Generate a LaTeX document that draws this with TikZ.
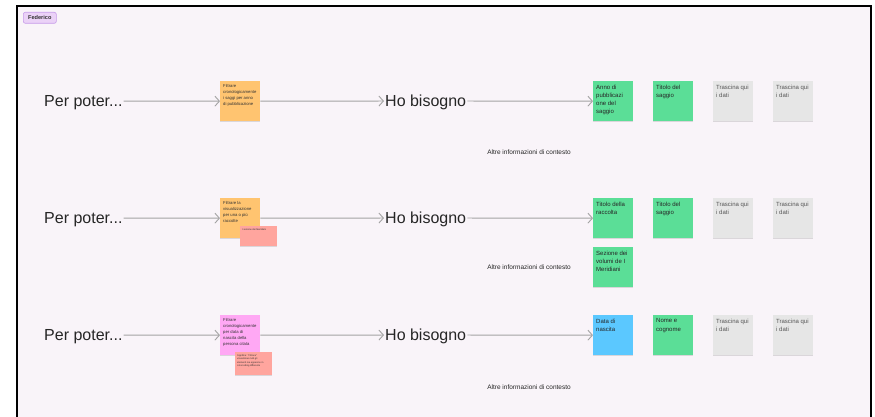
\documentclass[tikz,border=0pt]{standalone}
\usepackage{fontspec}
\setmainfont{Liberation Sans}
\usetikzlibrary{arrows.meta,shadows}
\definecolor{bg}{HTML}{F9F4F9}
\definecolor{linegray}{HTML}{A3A3A3}
\definecolor{sorange}{HTML}{FFC470}
\definecolor{sgreen}{HTML}{5BDE97}
\definecolor{sgrey}{HTML}{E6E6E6}
\definecolor{sblue}{HTML}{5BC8FF}
\definecolor{spink}{HTML}{FFA8F4}
\definecolor{ssalmon}{HTML}{FFA59E}
\definecolor{tagfill}{HTML}{EBD2F7}
\definecolor{tagdraw}{HTML}{C79BEA}
\definecolor{greytext}{HTML}{555555}
\tikzset{
  big/.style={font=\fontsize{16}{16}\selectfont, inner sep=1pt, text height=11.5pt, text depth=0pt, text=black!85},
  note/.style={minimum width=40pt, minimum height=40pt, inner sep=0pt, draw=none,
    general shadow={fill=black, opacity=0.12, shadow yshift=-0.8pt}},
  ntxt/.style={anchor=north west, inner sep=0pt, align=left, font=\fontsize{4.2}{6}\selectfont, text=black!80},
  gtxt/.style={anchor=north west, inner sep=0pt, align=left, font=\fontsize{6}{8.3}\selectfont, text=black!85},
  ytxt/.style={anchor=north west, inner sep=0pt, align=left, font=\fontsize{6}{8.3}\selectfont, text=greytext},
  stxt/.style={anchor=north west, inner sep=0pt, align=left, font=\fontsize{2.4}{3.3}\selectfont, text=black!80},
  ctx/.style={font=\fontsize{6.5}{7}\selectfont, inner sep=0pt, text=black!85},
  conn/.style={draw=linegray, line width=0.9pt, -{Straight Barb[length=4.5pt,width=10pt]}},
}
\newcommand\stk[6]{%
  \node[note, fill=#4, anchor=north west] (#1) at (#2,#3) {};
  \node[#5] (#1t) at ([shift={(3,3.5)}]#1.north west) {#6};}
\begin{document}
\begin{tikzpicture}[x=1pt,y=-1pt]
\useasboundingbox (0,0) rectangle (875,417);
\fill[white] (0,0) rectangle (875,417);
\fill[bg] (17,6) rectangle (871,420);
\draw[black, line width=1.6pt] (17,420) -- (17,6) -- (871,6) -- (871,420);
% tag
\node[fill=tagfill, draw=tagdraw, line width=0.6pt, rounded corners=2pt, inner sep=0pt,
  minimum width=33pt, minimum height=11pt,
  font=\bfseries\fontsize{5.6}{6}\selectfont, text=black!80, anchor=north west] (tag) at (23,12) {Federico};

% ---------- row 1 ----------
\node[big, anchor=west] (p1) at (43,101) {Per poter...};
\stk{o1}{220}{81}{sorange}{ntxt}{Filtrare\\cronologicamente\\i saggi per anno\\di pubblicazione}
\node[big, anchor=west] (h1) at (384,101) {Ho bisogno};
\stk{a1}{593}{81}{sgreen}{gtxt}{Anno di\\pubblicazi\\one del\\saggio}
\stk{b1}{653}{81}{sgreen}{gtxt}{Titolo del\\saggio}
\stk{c1}{713}{81}{sgrey}{ytxt}{Trascina qui\\i dati}
\stk{d1}{773}{81}{sgrey}{ytxt}{Trascina qui\\i dati}
\node[ctx] (x1) at (529,152) {Altre informazioni di contesto};
\draw[conn] (p1) -- (o1);
\draw[conn] (o1) -- (h1);
\draw[conn] (h1) -- (a1);

% ---------- row 2 ----------
\node[big, anchor=west] (p2) at (43,218) {Per poter...};
\stk{o2}{220}{198}{sorange}{ntxt}{Filtrare la\\visualizzazione\\per una o più\\raccolte}
\node[note, fill=ssalmon, anchor=north west, minimum width=37pt, minimum height=20pt] (s2) at (240,226) {};
\node[stxt] (s2t) at ([shift={(2,3)}]s2.north west) {I sezione dei Meridiani};
\node[big, anchor=west] (h2) at (384,218) {Ho bisogno};
\stk{a2}{593}{198}{sgreen}{gtxt}{Titolo della\\raccolta}
\stk{b2}{653}{198}{sgreen}{gtxt}{Titolo del\\saggio}
\stk{c2}{713}{198}{sgrey}{ytxt}{Trascina qui\\i dati}
\stk{d2}{773}{198}{sgrey}{ytxt}{Trascina qui\\i dati}
\stk{e2}{593}{247}{sgreen}{gtxt}{Sezione dei\\volumi de I\\Meridiani}
\node[ctx] (x2) at (529,267) {Altre informazioni di contesto};
\draw[conn] (p2) -- (o2);
\draw[conn] (o2) -- (h2);
\draw[conn] (h2) -- (a2);

% ---------- row 3 ----------
\node[big, anchor=west] (p3) at (43,335) {Per poter...};
\stk{o3}{220}{315}{spink}{ntxt}{Filtrare\\cronologicamente\\per data di\\nascita della\\persona citata}
\node[note, fill=ssalmon, anchor=north west, minimum width=37pt, minimum height=23pt] (s3) at (235,352) {};
\node[stxt] (s3t) at ([shift={(2,2.5)}]s3.north west) {Significa: "Filtrare"\\visualizzare tutti gli\\elementi ma appaiono in\\colorcoding differente};
\node[big, anchor=west] (h3) at (384,335) {Ho bisogno};
\stk{a3}{593}{315}{sblue}{gtxt}{Data di\\nascita}
\stk{b3}{653}{315}{sgreen}{gtxt}{Nome e\\cognome}
\stk{c3}{713}{315}{sgrey}{ytxt}{Trascina qui\\i dati}
\stk{d3}{773}{315}{sgrey}{ytxt}{Trascina qui\\i dati}
\node[ctx] (x3) at (529,387) {Altre informazioni di contesto};
\draw[conn] (p3) -- (o3);
\draw[conn] (o3) -- (h3);
\draw[conn] (h3) -- (a3);
\end{tikzpicture}
\end{document}
